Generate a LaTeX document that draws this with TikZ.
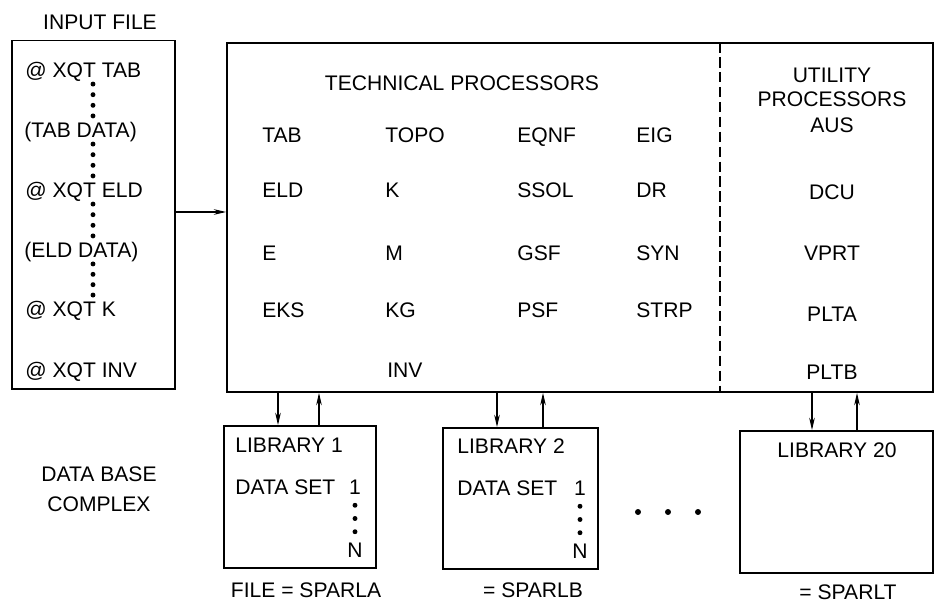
\documentclass[tikz,border=0pt]{standalone}
\usepackage{fontspec}
\setmainfont{Liberation Sans}
\usetikzlibrary{positioning,arrows.meta,calc}
\tikzset{
  box/.style={draw=black, line width=1.1pt, inner sep=0pt},
  lbl/.style={inner sep=0pt, text height=8.6pt, text depth=0pt,
    font=\fontsize{12}{14}\selectfont},
  flow/.style={line width=0.6pt, -{Stealth[length=7pt,width=3.2pt]}},
  divider/.style={line width=0.8pt, dash pattern=on 6pt off 2.5pt},
  dotmark/.style={fill=black}
}

\begin{document}
\begin{tikzpicture}[x=0.02cm, y=-0.02cm]
  \useasboundingbox (0,0) rectangle (943,614);
  %% boxes
  \node[box, minimum width=3.26cm, minimum height=6.98cm] (input) at (93.5,215) {};
  \node[box, minimum width=14.12cm, minimum height=6.98cm] (proc) at (580,217.5) {};
  \node[box, minimum width=3.04cm, minimum height=2.84cm] (lib1) at (300,497) {};
  \node[box, minimum width=3.1cm, minimum height=2.82cm] (lib2) at (520.5,498.5) {};
  \node[box, minimum width=3.86cm, minimum height=2.84cm] (lib20) at (836.5,502) {};
  \draw[divider] (proc.north -| 720,0) -- (proc.south -| 720,0);
  %% input file
  \node[lbl] (inhead) at (100,22) {INPUT FILE};
  \node[lbl, anchor=west] (in1) at (25,70) {@ XQT TAB};
  \node[lbl, anchor=west] (in2) at (24,130) {(TAB DATA)};
  \node[lbl, anchor=west] (in3) at (25,190) {@ XQT ELD};
  \node[lbl, anchor=west] (in4) at (24,250) {(ELD DATA)};
  \node[lbl, anchor=west] (in5) at (25,309) {@ XQT K};
  \node[lbl, anchor=west] (in6) at (25,370) {@ XQT INV};
  \foreach \a/\b in {in1/in2,in2/in3,in3/in4,in4/in5}
    \foreach \t in {0.14,0.38,0.62,0.86}
      \fill[dotmark] ($(\a.south -| 93,0)!\t!(\b.north -| 93,0)$) circle[radius=1.4pt];
  \draw[flow] (input.east |- 0,212) -- (proc.west |- 0,212);
  %% technical processors
  \node[lbl] (techhead) at (462,83) {TECHNICAL PROCESSORS};
  \foreach \name/\col/\row in {TAB/262/135, ELD/262/190, E/262/253, EKS/262/310,
      TOPO/385/135, K/385/190, M/385/253, KG/385/310, INV/387/370,
      EQNF/517/135, SSOL/517/190, GSF/517/253, PSF/517/310,
      EIG/636/135, DR/636/190, SYN/636/253, STRP/636/310}
    \node[lbl, anchor=west] (t-\name) at (\col,\row) {\name};
  %% utility processors
  \node[lbl] (utilhead) at (832,75) {UTILITY};
  \node[lbl] (utilhead2) at (832,99) {PROCESSORS};
  \foreach \name/\row in {AUS/125, DCU/192, VPRT/253, PLTA/314, PLTB/372}
    \node[lbl] (u-\name) at (832,\row) {\name};
  %% data base complex
  \node[lbl, align=center] (dbc) at (99,504) {DATA BASE\\[3pt]COMPLEX};
  \node[lbl, anchor=west] (lib1head) at (235,445) {LIBRARY 1};
  \node[lbl, anchor=west] (ds1) at (235,487) {DATA SET};
  \node[lbl] (one1) at (355,487) {1};
  \node[lbl] (n1) at (355,550) {N};
  \node[lbl, anchor=west] (lib2head) at (457,446) {LIBRARY 2};
  \node[lbl, anchor=west] (ds2) at (457,488) {DATA SET};
  \node[lbl] (one2) at (580,488) {1};
  \node[lbl] (n2) at (580,551) {N};
  \node[lbl] (lib20head) at (837,450) {LIBRARY 20};
  \foreach \a/\b in {one1/n1,one2/n2}
    \foreach \t in {0.22,0.5,0.78}
      \fill[dotmark] ($(\a.south)!\t!(\b.north)$) circle[radius=1.4pt];
  \foreach \x in {638,668,698}
    \fill[dotmark] (\x,512) circle[radius=1.7pt];
  %% transfers
  \foreach \lib/\dn/\up in {lib1/278/319, lib2/497/543, lib20/812/857}{
    \draw[flow] (proc.south -| \dn,0) -- (\lib.north -| \dn,0);
    \draw[flow] (\lib.north -| \up,0) -- (proc.south -| \up,0);
  }
  %% file names
  \node[lbl] (fa) at (306,590) {FILE = SPARLA};
  \node[lbl] (fb) at (533,590) {= SPARLB};
  \node[lbl] (ft) at (848,592) {= SPARLT};
\end{tikzpicture}
\end{document}
